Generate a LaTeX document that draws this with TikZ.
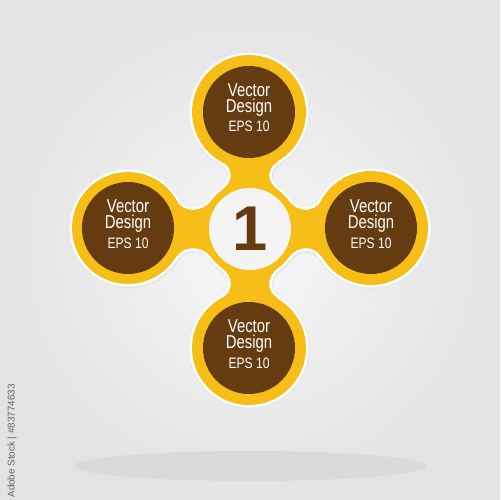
\documentclass[tikz,border=0pt]{standalone}
\usepackage{fontspec}
\setmainfont{Liberation Sans}
\newfontfamily\narrowsf[FakeStretch=0.8]{Liberation Sans}
\definecolor{bgin}{RGB}{247,247,247}
\definecolor{bgout}{RGB}{227,227,227}
\definecolor{petal}{RGB}{246,190,22}
\definecolor{cocoa}{RGB}{101,59,17}
\definecolor{paper}{RGB}{244,244,244}
\definecolor{floor}{RGB}{218,218,218}
% the yellow cross: five discs and four necks
\newcommand\blobpart[1]{%
	\foreach \cx/\cy/\r in {250/229/48,249/112/57,128/228/56,371/228/57,249/348/57}
		\path[#1] (\cx,\cy) circle (\r);
	\foreach \a/\d/\q in {0/117/49.6,90/122/48.5,180/119/49.6,270/121/49.6}
		\path[#1, shift={(250,229)}, rotate=\a] (-28,-39) .. controls (-16.6,-47.2) and (-15.9,{-\d+\q+6.9}) .. (-28,{-\d+\q})
		-- (28,{-\d+\q}) .. controls (15.9,{-\d+\q+6.9}) and (16.6,-47.2) .. (28,-39) -- cycle;
}
\begin{document}
\begin{tikzpicture}[x=0.02cm, y=-0.02cm, line cap=round, line join=round]
	\tikzset{title text/.style={text=white, align=center, inner sep=0pt, font=\narrowsf\fontsize{10.6}{9.4}\selectfont},
		eps text/.style={text=white, anchor=base, inner sep=0pt, font=\narrowsf\fontsize{8.6}{9}\selectfont}}
	\useasboundingbox (0,0) rectangle (500,500);
	\shade[inner color=bgin, outer color=bgout] (0,0) rectangle (500,500);
	\fill[floor] (250,466) ellipse [x radius=176, y radius=15];
	% shadow, white rim, then yellow
	\blobpart{draw=black!9, line width=4pt, xshift=0.3pt, yshift=-0.6pt}
	\blobpart{draw=white, line width=2.8pt}
	\blobpart{fill=petal}
	\foreach \cx/\cy in {249/112,128/228,371/228,249/348} \fill[cocoa] (\cx,\cy) circle (46);
	\fill[paper] (250,229) circle (41);
	\node[text=cocoa, font=\bfseries\fontsize{36}{36}\selectfont] (num) at (250,229) {1};
	\foreach \n/\cx/\cy in {top/249/112,left/128/228,right/371/228,bottom/249/348}{
		\node[title text] (\n title) at (\cx,\cy-12) {Vector\\Design};
		\node[eps text] (\n eps) at (\cx,\cy+20) {EPS 10};
	}
	\node[rotate=90, text=black!62, font=\fontsize{5.6}{6}\selectfont] (stock) at (12,441) {Adobe Stock | \#83774633};
\end{tikzpicture}
\end{document}
